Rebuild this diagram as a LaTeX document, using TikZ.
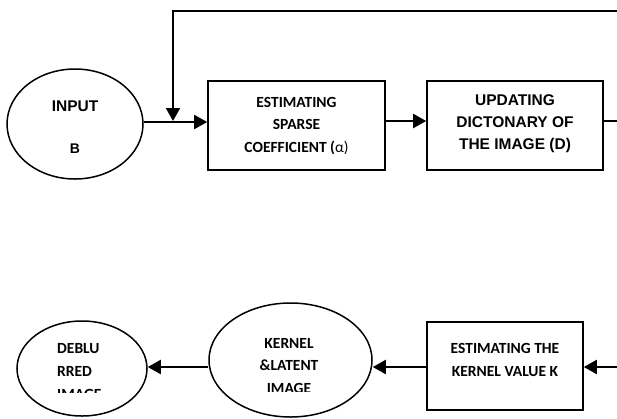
\documentclass[tikz,border=0pt]{standalone}
\usepackage{fontspec}
\newfontfamily\calfont{Carlito}
\newfontfamily\arialfont{Liberation Sans}
\usetikzlibrary{shapes.geometric,arrows.meta}
\tikzset{
  box/.style={draw, line width=1.6pt, inner sep=0pt},
  oval/.style={draw, ellipse, line width=1.5pt, inner sep=0pt},
  conn/.style={line width=2pt},
  arr/.style={conn, -{Triangle[length=13pt,width=14pt]}},
  caltxt/.style={font=\calfont\bfseries\fontsize{15.5}{22.5}\selectfont, align=center, inner sep=0pt},
  arialtxt/.style={font=\arialfont\bfseries\fontsize{15.5}{22}\selectfont, align=center, inner sep=0pt}
}
\begin{document}
\begin{tikzpicture}[x=1pt,y=-1pt]
\useasboundingbox (0,0) rectangle (617,418);
% shapes
\node[oval, minimum width=136pt, minimum height=110pt] (input) at (75,124) {};
\node[box, minimum width=177pt, minimum height=89pt] (box1) at (296.5,125.5) {};
\node[box, minimum width=176pt, minimum height=89pt] (box2) at (515,125.5) {};
\node[oval, minimum width=130pt, minimum height=95pt] (deblur) at (82,368.5) {};
\node[oval, minimum width=163pt, minimum height=114pt] (kernel) at (290.5,360) {};
\node[box, minimum width=156pt, minimum height=88pt] (box3) at (505,366) {};
% texts
\node[arialtxt, anchor=north] (tinput) at (75,100.5) {INPUT};
\begin{scope}
  \clip (0,140) rectangle (150,152.5);
  \node[font=\arialfont\bfseries\fontsize{14}{16}\selectfont, inner sep=0pt, anchor=north] (tb) at (75,144) {B};
\end{scope}
\node[caltxt, anchor=north] (t1) at (296.5,97) {ESTIMATING\\SPARSE\\COEFFICIENT (\mdseries α)};
\node[arialtxt, anchor=north] (t2) at (515,94.5) {UPDATING\\DICTONARY OF\\THE IMAGE (D)};
\node[caltxt, anchor=north, font=\calfont\bfseries\fontsize{15.5}{23}\selectfont] (t3) at (505,343) {ESTIMATING THE\\KERNEL VALUE K};
\begin{scope}
  \clip (200,300) rectangle (380,391.5);
  \node[caltxt, anchor=north] (tk) at (289,338) {KERNEL\\\&LATENT\\IMAGE};
\end{scope}
\begin{scope}
  \clip (0,300) rectangle (160,392.5);
  \node[caltxt, anchor=north west, align=left, font=\calfont\bfseries\fontsize{15.5}{23}\selectfont] (td) at (57,343) {DEBLU\\RRED\\IMAGE};
\end{scope}
% connectors
\coordinate (tr) at (617,11);
\coordinate (tl) at (173,11);
\coordinate (m) at (173,122);
\coordinate (br) at (617,367);
\draw[conn] (box2.east |- 0,121) -- (tr |- 0,121);
\draw[conn] (tr) -- (tl) -- (173,60);
\draw[arr] (tl) -- (173,121);
\draw[arr] (input.east |- m) -- (box1.west |- m);
\draw[arr] (box1.east |- 0,121) -- (box2.west |- 0,121);
\draw[arr] (br) -- (box3.east |- br);
\draw[arr] (box3.west |- br) -- (kernel.east |- br);
\draw[arr] (kernel.west |- br) -- (deblur.east |- br);
\end{tikzpicture}
\end{document}
